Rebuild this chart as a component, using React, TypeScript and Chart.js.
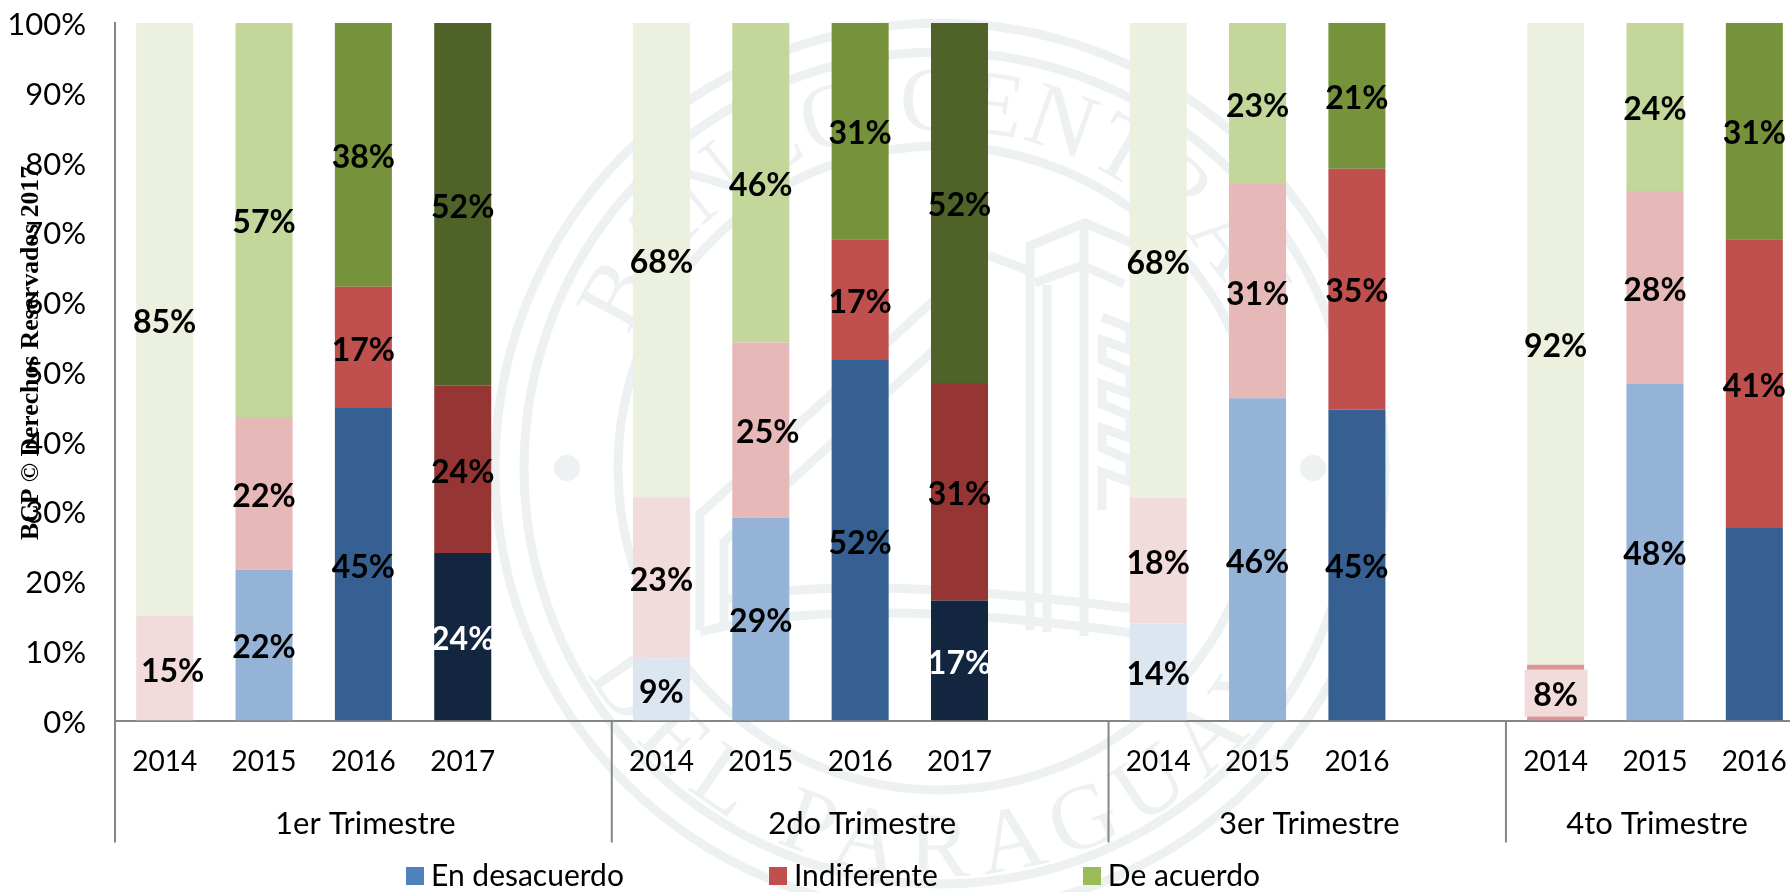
import React, { useEffect, useRef } from "react";
import { Chart, registerables } from "chart.js";

Chart.register(...registerables);

const years = ["2014","2015","2016","2017","","2014","2015","2016","2017","","2014","2015","2016","","2014","2015","2016"];
const desacuerdo = [0,21.6,44.8,24,null,8.9,29.1,51.7,17.2,null,13.9,46.2,44.6,null,0,48.3,27.6];
const indiferente = [15,21.9,17.4,24,null,23.1,25.1,17.3,31.2,null,18,30.7,34.5,null,8,27.6,41.4];
const deAcuerdo = [85,56.5,37.8,52,null,68,45.8,31,51.6,null,68.1,23.1,20.9,null,92,24.1,31];
const blues = ["#DCE6F1","#95B3D7","#366092","#12263F","","#DCE6F1","#95B3D7","#366092","#12263F","","#DCE6F1","#95B3D7","#366092","","#DCE6F1","#95B3D7","#366092"];
const reds = ["#F2DCDB","#E6B8B7","#C0504D","#963634","","#F2DCDB","#E6B8B7","#C0504D","#963634","","#F2DCDB","#E6B8B7","#C0504D","","#D99694","#E6B8B7","#C0504D"];
const greens = ["#EBF1DE","#C4D79B","#76933C","#4F6228","","#EBF1DE","#C4D79B","#76933C","#4F6228","","#EBF1DE","#C4D79B","#76933C","","#EBF1DE","#C4D79B","#76933C"];
const groups = ["1er Trimestre","2do Trimestre","3er Trimestre","4to Trimestre"];
const groupStarts = [0,5,10,14];
const groupEnds = [4,9,13,16];
const legendNames = ["En desacuerdo","Indiferente","De acuerdo"];
const legendColors = ["#4F81BD","#C0504D","#9BBB59"];

const FONT = "Lato, 'Open Sans', sans-serif";
const GREY = "#868686";
const SEAL = "#EDF1F2";
const LABEL_SHIFT: Record<string, number> = { "1:0": 8, "1:6": 7 };
const NO_LABEL = new Set(["0:16"]);
const WHITE_LABEL = new Set(["0:3", "0:8"]);
const BOXED_LABEL: Record<string, string> = { "1:14": "#F2DCDB" };

function legendSquare(color: string) {
  const c = document.createElement("canvas");
  c.width = 18;
  c.height = 18;
  const g = c.getContext("2d")!;
  g.fillStyle = color;
  g.fillRect(0, 0, 18, 18);
  return c;
}

const reportPlugin = {
  id: "report",
  beforeUpdate(chart: any) {
    const l = chart.legend;
    if (l && !l.__fixed) {
      const fit = l.fit;
      l.fit = function () { fit.call(this); this.height = 30; };
      l.__fixed = true;
    }
  },
  afterLayout(chart: any) {
    const l = chart.legend;
    const pad = l.options.labels.padding;
    l.left = 414 - pad;
    l.top = 861 - pad;
  },
  afterDatasetsDraw(chart: any) {
    const { ctx } = chart;
    ctx.save();
    ctx.textAlign = "center";
    ctx.textBaseline = "middle";
    ctx.font = `bold 32px ${FONT}`;
    chart.data.datasets.forEach((ds: any, d: number) => {
      chart.getDatasetMeta(d).data.forEach((bar: any, i: number) => {
        const v = ds.data[i];
        const key = `${d}:${i}`;
        if (!v || NO_LABEL.has(key)) return;
        const x = bar.x + (LABEL_SHIFT[key] || 0);
        const y = (bar.y + bar.base) / 2;
        if (BOXED_LABEL[key]) {
          ctx.fillStyle = BOXED_LABEL[key];
          ctx.fillRect(x - 31, y - 23, 63, 47);
        }
        ctx.fillStyle = WHITE_LABEL.has(key) ? "#FFFFFF" : "#000000";
        ctx.fillText(`${Math.round(v)}%`, x, y + 3);
      });
    });
    ctx.restore();
  },
  afterDraw(chart: any) {
    const { ctx, scales } = chart;
    const sx = scales.x;
    const base = sx.top;
    ctx.save();
    ctx.strokeStyle = GREY;
    ctx.lineWidth = 2;
    groupStarts.forEach((s) => {
      const px = sx.getPixelForValue(s - 0.5);
      ctx.beginPath();
      ctx.moveTo(px, base);
      ctx.lineTo(px, base + 122);
      ctx.stroke();
    });
    ctx.fillStyle = "#000";
    ctx.textAlign = "center";
    ctx.textBaseline = "middle";
    ctx.font = `31px ${FONT}`;
    groups.forEach((g, i) => {
      const px = sx.getPixelForValue((groupStarts[i] + groupEnds[i]) / 2);
      ctx.fillText(g, px + 2, base + 103);
    });
    ctx.translate(38, 540);
    ctx.rotate(-Math.PI / 2);
    ctx.textAlign = "left";
    ctx.textBaseline = "alphabetic";
    ctx.font = "bold 25.7px 'Liberation Serif', serif";
    ctx.fillText("BCP © Derechos Reservados 2017", 0, 0);
    ctx.restore();
  },
};

function Seal() {
  const cx = 940, cy = 468;
  const arc = (r: number) => `M ${cx - r} ${cy} A ${r} ${r} 0 0 1 ${cx + r} ${cy}`;
  const arcLow = (r: number) => `M ${cx - r} ${cy} A ${r} ${r} 0 0 0 ${cx + r} ${cy}`;
  return (
    <svg width={1790} height={892} style={{ position: "absolute", left: 0, top: 0 }}>
      <defs>
        <path id="sealTop" d={arc(338)} />
        <path id="sealLow" d={arcLow(408)} />
      </defs>
      <g fill="none" stroke={SEAL} strokeWidth={9}>
        <circle cx={cx} cy={cy} r={445} />
        <circle cx={cx} cy={cy} r={416} />
        <circle cx={cx} cy={cy} r={322} />
        <path d="M1027 247 L1085 223 L1132 243 M1035 283 L1082 265 L1124 284 M1030 247 V630 M1047 285 V632 M1084 223 V636 M988 255 L1027 270 M700 630 V514 L945 290 M724 630 V542 L945 340 M700 632 Q860 590 1180 640 M724 600 Q860 570 1180 615" />
        <path d="M1102 317 L1130 328 V350 L1102 340 V360 L1130 372 V394 L1102 384 V404 L1130 416 V438 L1102 428 V448 L1130 460 V482 L1102 472 V510" />
      </g>
      <circle cx={567} cy={468} r={13} fill={SEAL} />
      <circle cx={1313} cy={468} r={13} fill={SEAL} />
      <g fill={SEAL} fontFamily="'Liberation Serif', serif">
        <text fontSize={92} textAnchor="middle">
          <textPath href="#sealTop" startOffset="50%" textLength={790}>BANCO CENTRAL</textPath>
        </text>
        <text fontSize={92} textAnchor="middle">
          <textPath href="#sealLow" startOffset="50%" textLength={850}>DEL PARAGUAY</textPath>
        </text>
      </g>
    </svg>
  );
}

export default function App() {
  const ref = useRef<HTMLCanvasElement | null>(null);
  useEffect(() => {
    const chart = new Chart(ref.current!, {
      type: "bar",
      plugins: [reportPlugin],
      data: {
        labels: years,
        datasets: [
          { label: legendNames[0], data: desacuerdo, backgroundColor: blues },
          { label: legendNames[1], data: indiferente, backgroundColor: reds },
          { label: legendNames[2], data: deAcuerdo, backgroundColor: greens },
        ],
      },
      options: {
        animation: false,
        responsive: false,
        barPercentage: 0.574,
        categoryPercentage: 1,
        layout: { padding: { top: 23, right: 6, bottom: 0, left: 0 } },
        plugins: {
          tooltip: { enabled: false },
          title: { display: false },
          legend: {
            position: "bottom",
            align: "start",
            labels: {
              color: "#000",
              font: { family: FONT, size: 30 },
              boxWidth: 2,
              boxHeight: 18,
              padding: 153,
              usePointStyle: true,
              pointStyleWidth: 2,
              generateLabels: () =>
                legendNames.map((n, i) => ({
                  text: n,
                  fillStyle: legendColors[i],
                  strokeStyle: legendColors[i],
                  lineWidth: 0,
                  pointStyle: legendSquare(legendColors[i]),
                  datasetIndex: i,
                })),
            },
          },
        },
        scales: {
          x: {
            stacked: true,
            grid: { display: false, drawTicks: false },
            border: { display: true, color: GREY, width: 2 },
            afterFit: (s: any) => { s.height = 141.5; s.paddingLeft = 0; s.paddingRight = 0; },
            ticks: {
              color: "#000",
              font: { family: FONT, size: 28 },
              autoSkip: false,
              maxRotation: 0,
              padding: 25,
            },
          },
          y: {
            stacked: true,
            min: 0,
            max: 100,
            afterFit: (s: any) => { s.width = 115; s.paddingTop = 0; s.paddingBottom = 0; },
            grid: { display: false, drawTicks: false },
            border: { display: true, color: GREY, width: 2 },
            ticks: {
              color: "#000",
              font: { family: FONT, size: 31 },
              stepSize: 10,
              padding: 29,
              labelOffset: 2,
              callback: (v: any) => `${v}%`,
            },
          },
        },
      },
    } as any);
    return () => chart.destroy();
  }, []);
  return (
    <div style={{ position: "absolute", left: 0, top: 0, width: 1790, height: 892, overflow: "hidden", background: "#fff" }}>
      <Seal />
      <canvas ref={ref} width={1810} height={892} style={{ position: "absolute", left: 0, top: 0 }} />
    </div>
  );
}
